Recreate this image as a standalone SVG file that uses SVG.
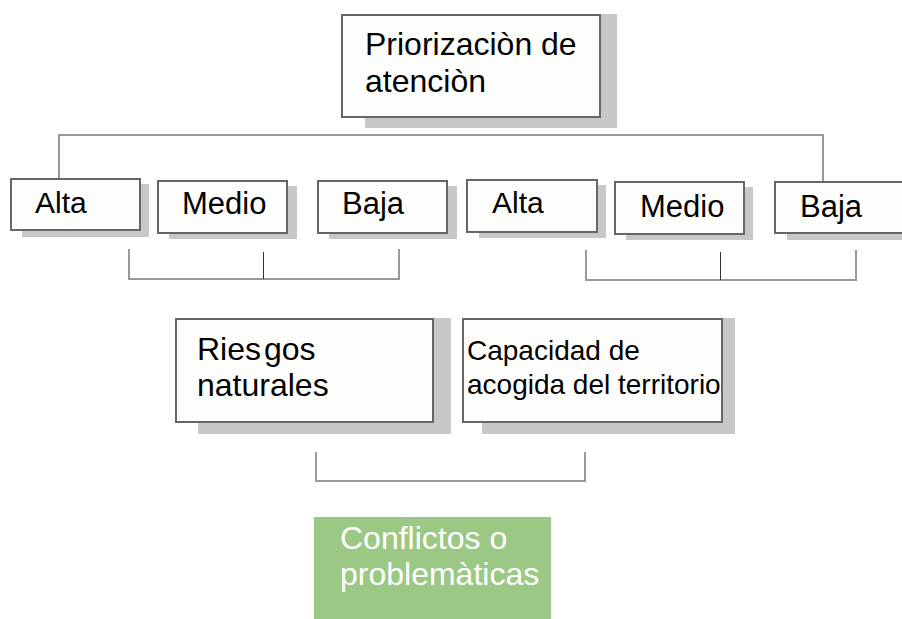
<svg xmlns="http://www.w3.org/2000/svg" width="902" height="619" viewBox="0 0 902 619">
<style>
.bg{fill:#ffffff}
.sh{fill:#c8c8c8}
.box{fill:#fdfdfb;stroke:#666666;stroke-width:2}
.t{font-family:"Liberation Sans",Arial,sans-serif;fill:#000000}
.conn{fill:none;stroke:#999999;stroke-width:2}
.thin{fill:none;stroke:#333333;stroke-width:1}
.green{fill:#9bc985}
.wt{font-family:"Liberation Sans",Arial,sans-serif;fill:#ffffff;font-size:32px}
</style>
<rect class="bg" x="0" y="0" width="902" height="619"/>
<g id="connectors">
<path class="conn" d="M59,179 V135 H823 V182"/>
<path class="conn" d="M129,249 V279 H399 V249"/>
<path class="thin" d="M263.5,252 V279"/>
<path class="conn" d="M586,250 V280 H856 V250"/>
<path class="thin" d="M720.5,252 V280"/>
<path class="conn" d="M316,452 V481 H585 V452"/>
</g>
<g id="node-priorizacion">
<rect class="sh" x="365" y="14" width="252" height="114"/>
<rect class="box" x="342" y="15" width="258" height="102"/>
<text class="t" font-size="32" x="365" y="55">Priorizaciòn de</text>
<text class="t" font-size="32" x="365" y="92">atenciòn</text>
</g>
<g id="node-alta-1">
<rect class="sh" x="22" y="184" width="127" height="53"/>
<rect class="box" x="11" y="179" width="129" height="51"/>
<text class="t" font-size="30" x="35" y="213">Alta</text>
</g>
<g id="node-medio-1">
<rect class="sh" x="169" y="186" width="128" height="53"/>
<rect class="box" x="158" y="181" width="129" height="52"/>
<text class="t" font-size="31" x="182" y="214">Medio</text>
</g>
<g id="node-baja-1">
<rect class="sh" x="329" y="186" width="128" height="53"/>
<rect class="box" x="318" y="181" width="129" height="52"/>
<text class="t" font-size="31" x="342" y="214">Baja</text>
</g>
<g id="node-alta-2">
<rect class="sh" x="479" y="185" width="127" height="53"/>
<rect class="box" x="467" y="180" width="130" height="52"/>
<text class="t" font-size="30" x="492" y="213">Alta</text>
</g>
<g id="node-medio-2">
<rect class="sh" x="626" y="187" width="127" height="53"/>
<rect class="box" x="615" y="182" width="129" height="52"/>
<text class="t" font-size="31" x="640" y="217">Medio</text>
</g>
<g id="node-baja-2">
<rect class="sh" x="787" y="187" width="130" height="53"/>
<rect class="box" x="775" y="182" width="135" height="51"/>
<text class="t" font-size="31" x="800" y="217">Baja</text>
</g>
<g id="node-riesgos">
<rect class="sh" x="198" y="318" width="253" height="116"/>
<rect class="box" x="176" y="319" width="257" height="103"/>
<text class="t" font-size="32" x="197" y="360">Ries<tspan dx="3">gos</tspan></text>
<text class="t" font-size="32" x="197" y="396">naturales</text>
</g>
<g id="node-capacidad">
<rect class="sh" x="482" y="318" width="253" height="116"/>
<rect class="box" x="463" y="319" width="259" height="103"/>
<text class="t" font-size="28" x="467" y="360">Capacidad de</text>
<text class="t" font-size="28" x="467" y="394">acogida del territorio</text>
</g>
<g id="node-conflictos">
<rect class="green" x="314" y="517" width="237" height="102"/>
<text class="wt" x="340" y="549">Conflictos o</text>
<text class="wt" x="340" y="585">problemàticas</text>
</g>
</svg>
